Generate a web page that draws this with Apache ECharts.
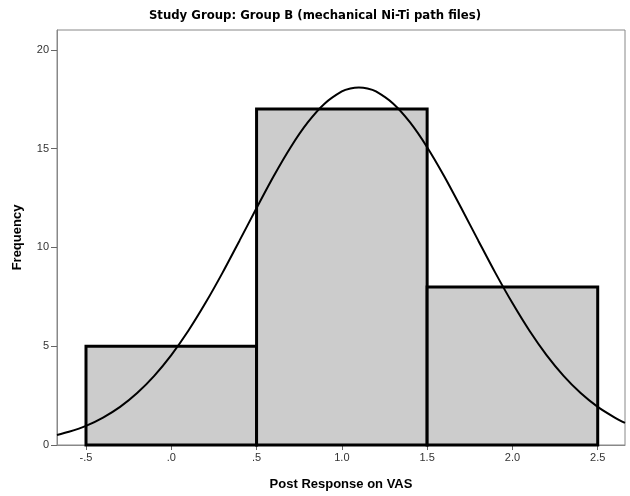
<!DOCTYPE html>
<html>
<head>
<meta charset="utf-8">
<script src="https://cdn.jsdelivr.net/npm/echarts@6/dist/echarts.min.js"></script>
<style>html,body{margin:0;padding:0;background:#fff}#c{width:630px;height:496px}</style>
</head>
<body>
<div id="c"></div>
<script>
// Histogram bins
const binStart = [-0.5, 0.5, 1.5];
const binEnd = [0.5, 1.5, 2.5];
const counts = [5, 17, 8];
// Normal curve points
const curveX = [-0.67,-0.6,-0.5,-0.4,-0.3,-0.2,-0.1,0.0,0.1,0.2,0.3,0.4,0.5,0.6,0.7,0.8,0.9,1.0,1.05,1.1,1.15,1.2,1.3,1.4,1.5,1.6,1.7,1.8,1.9,2.0,2.1,2.2,2.3,2.4,2.5,2.6,2.66];
const curveY = [0.51,0.67,0.97,1.39,1.93,2.63,3.50,4.55,5.78,7.18,8.71,10.34,11.99,13.60,15.07,16.32,17.28,17.89,18.04,18.09,18.04,17.89,17.28,16.32,15.07,13.60,11.99,10.34,8.71,7.18,5.78,4.55,3.50,2.63,1.93,1.39,1.12];
const xTicks = [-0.5, 0, 0.5, 1, 1.5, 2, 2.5];
const yTicks = [0, 5, 10, 15, 20];

const chart = echarts.init(document.getElementById('c'), null, {renderer: 'canvas'});
const fmtX = v => { let s = (Math.round(v*10)/10).toFixed(1); return s.replace(/^(-?)0\./, '$1.'); };
chart.setOption({
  animation: false,
  title: {
    text: 'Study Group: Group B (mechanical Ni-Ti path files)',
    left: 'center', top: 4,
    textStyle: {fontFamily: 'DejaVu Sans Condensed', fontWeight: 'bold', fontSize: 13, color: '#000'}
  },
  grid: {left: 57, top: 30, right: 5, bottom: 46, show: true, borderColor: '#888', borderWidth: 1, containLabel: false},
  xAxis: {
    type: 'value', min: -0.67, max: 2.66,
    name: 'Post Response on VAS', nameLocation: 'middle', nameGap: 33,
    nameTextStyle: {fontFamily: 'Liberation Sans', fontWeight: 'bold', fontSize: 13, color: '#000'},
    axisLine: {show: true, onZero: false, lineStyle: {color: '#888'}},
    axisTick: {show: true, customValues: xTicks, length: 5, lineStyle: {color: '#666'}},
    axisLabel: {customValues: xTicks, formatter: fmtX, fontFamily: 'Liberation Sans', fontSize: 11, color: '#333', margin: 7},
    splitLine: {show: false}
  },
  yAxis: {
    type: 'value', min: 0, max: 21,
    name: 'Frequency', nameLocation: 'middle', nameGap: 33, nameRotate: 90,
    nameTextStyle: {fontFamily: 'Liberation Sans', fontWeight: 'bold', fontSize: 13, color: '#000'},
    axisLine: {show: true, onZero: false, lineStyle: {color: '#888'}},
    axisTick: {show: true, customValues: yTicks, length: 6, lineStyle: {color: '#666'}},
    axisLabel: {customValues: yTicks, fontFamily: 'Liberation Sans', fontSize: 11, color: '#333', margin: 8},
    splitLine: {show: false}
  },
  series: [
    {
      type: 'custom',
      data: counts.map((c, i) => [binStart[i], binEnd[i], c]),
      renderItem: function (params, api) {
        const p0 = api.coord([api.value(0), 0]);
        const p1 = api.coord([api.value(1), api.value(2)]);
        return {
          type: 'rect',
          shape: {x: p0[0], y: p1[1], width: p1[0] - p0[0], height: p0[1] - p1[1]},
          style: {fill: '#cccccc', stroke: '#000', lineWidth: 3}
        };
      },
      z: 2
    },
    {
      type: 'line',
      data: curveX.map((x, i) => [x, curveY[i]]),
      smooth: 0.3, showSymbol: false,
      lineStyle: {color: '#000', width: 2},
      z: 3
    }
  ]
});
</script>
</body>
</html>
